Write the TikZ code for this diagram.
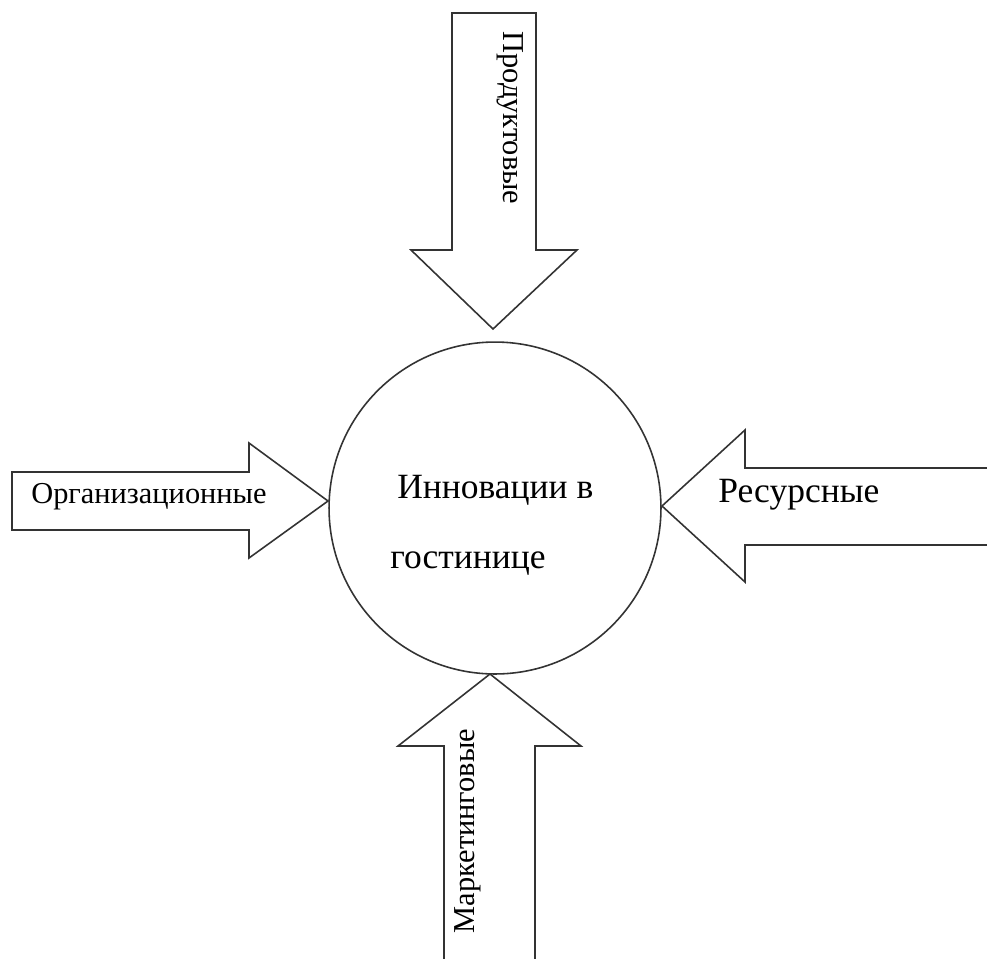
\documentclass[tikz,border=0pt]{standalone}
\usepackage{fontspec}
\setmainfont{Liberation Serif}
\usepackage{tikz}

\tikzset{
	blockarrow/.style={draw=black!80, line width=0.9pt, line join=miter, fill=white},
	hub/.style={circle, draw=black!80, line width=0.9pt, minimum size=6.64cm, inner sep=0pt},
	smalltxt/.style={font=\fontsize{17.3}{21}\selectfont, inner sep=0pt},
	bigtxt/.style={font=\fontsize{20.2}{24}\selectfont, inner sep=0pt},
}

\begin{document}
\begin{tikzpicture}[x=0.02cm, y=-0.02cm]
	\useasboundingbox (0,0) rectangle (987,958);

	% centre
	\node[hub] (hotel) at (495,508) {};

	% arrows
	\path[blockarrow] (452,13) -- (536,13) -- (536,250) -- (577,250) -- (493,329) -- (411,250) -- (452,250) -- cycle;
	\path[blockarrow] (12,472) -- (249,472) -- (249,443) -- (328,501) -- (249,558) -- (249,530) -- (12,530) -- cycle;
	\path[blockarrow] (995,468) -- (745,468) -- (745,430) -- (662,506) -- (745,582) -- (745,545) -- (995,545);
	\path[blockarrow] (444,965) -- (444,746) -- (398,746) -- (490,674) -- (581,746) -- (535,746) -- (535,965);

	% labels
	\node[smalltxt, rotate=-90] (prod) at (510,118) {Продуктовые};
	\node[smalltxt, rotate=90] (mark) at (468,831) {Маркетинговые};
	\node[smalltxt, anchor=base west] (org) at (31,503) {Организационные};
	\node[bigtxt, anchor=base west] (res) at (718,502) {Ресурсные};
	\node[bigtxt, anchor=base west] (innov) at (397,498) {Инновации в};
	\node[bigtxt, anchor=base west] (hotelname) at (390,568) {гостинице};
\end{tikzpicture}
\end{document}
